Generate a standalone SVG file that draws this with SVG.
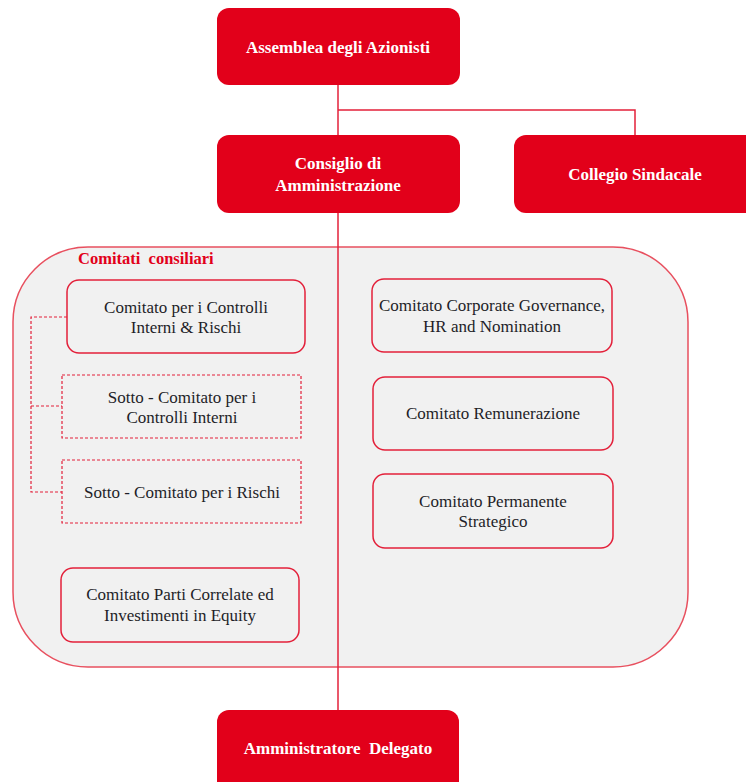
<svg xmlns="http://www.w3.org/2000/svg" width="746" height="782" viewBox="0 0 746 782">
<style>
.red{fill:#e2001a;}
.rt{font-family:"Liberation Serif",serif;font-weight:bold;font-size:17px;fill:#ffffff;text-anchor:middle;}
.box{fill:#f1f1f1;stroke:#e3203a;stroke-width:1.5;}
.dbox{fill:#f1f1f1;stroke:#e3203a;stroke-width:1.2;stroke-dasharray:3 2;}
.t{font-family:"Liberation Serif",serif;font-size:17px;fill:#1e1e28;text-anchor:middle;}
.ln{stroke:#e3203a;stroke-width:1.5;fill:none;}
.dl{stroke:#e3203a;stroke-width:1.2;fill:none;stroke-dasharray:3 2;}
</style>
<rect width="746" height="782" fill="#ffffff"/>
<g id="comitati-consiliari">
<rect x="13" y="247" width="675" height="420" rx="75" ry="75" fill="#f1f1f1" stroke="#e8505f" stroke-width="1.5"/>
<text x="78" y="264" font-family="Liberation Serif,serif" font-weight="bold" font-size="16.5" fill="#e2001a" xml:space="preserve">Comitati  consiliari</text>
</g>
<g id="connectors">
<line class="ln" x1="338" y1="85" x2="338" y2="710"/>
<polyline class="ln" points="338,110 635,110 635,135"/>
<polyline class="dl" points="67,317 31,317 31,492 62,492"/>
<line class="dl" x1="31" y1="406" x2="62" y2="406"/>
</g>
<g id="assemblea">
<rect class="red" x="217" y="8" width="243" height="77" rx="12"/>
<text class="rt" x="338" y="53">Assemblea degli Azionisti</text>
</g>
<g id="consiglio">
<rect class="red" x="217" y="135" width="243" height="78" rx="12"/>
<text class="rt" x="338" y="169">Consiglio di</text>
<text class="rt" x="338" y="191">Amministrazione</text>
</g>
<g id="collegio">
<rect class="red" x="514" y="135" width="250" height="78" rx="12"/>
<text class="rt" x="635" y="180">Collegio Sindacale</text>
</g>
<g id="amministratore">
<rect class="red" x="217" y="710" width="242" height="90" rx="12"/>
<text class="rt" x="338" y="754" xml:space="preserve">Amministratore  Delegato</text>
</g>
<g id="controlli-rischi">
<rect class="box" x="67" y="280" width="238" height="73" rx="12"/>
<text class="t" x="186" y="313">Comitato per i Controlli</text>
<text class="t" x="186" y="333">Interni &amp; Rischi</text>
</g>
<g id="sotto-controlli">
<rect class="dbox" x="62" y="375" width="239" height="63"/>
<text class="t" x="182" y="403">Sotto - Comitato per i</text>
<text class="t" x="182" y="423">Controlli Interni</text>
</g>
<g id="sotto-rischi">
<rect class="dbox" x="62" y="460" width="239" height="63"/>
<text class="t" x="182" y="498">Sotto - Comitato per i Rischi</text>
</g>
<g id="parti-correlate">
<rect class="box" x="61" y="568" width="238" height="74" rx="12"/>
<text class="t" x="180" y="600">Comitato Parti Correlate ed</text>
<text class="t" x="180" y="621">Investimenti in Equity</text>
</g>
<g id="corporate-governance">
<rect class="box" x="372" y="279" width="240" height="73" rx="12"/>
<text class="t" x="492" y="311">Comitato Corporate Governance,</text>
<text class="t" x="492" y="332">HR and Nomination</text>
</g>
<g id="remunerazione">
<rect class="box" x="373" y="377" width="240" height="73" rx="12"/>
<text class="t" x="493" y="419">Comitato Remunerazione</text>
</g>
<g id="permanente-strategico">
<rect class="box" x="373" y="474" width="240" height="74" rx="12"/>
<text class="t" x="493" y="507">Comitato Permanente</text>
<text class="t" x="493" y="527">Strategico</text>
</g>
</svg>
